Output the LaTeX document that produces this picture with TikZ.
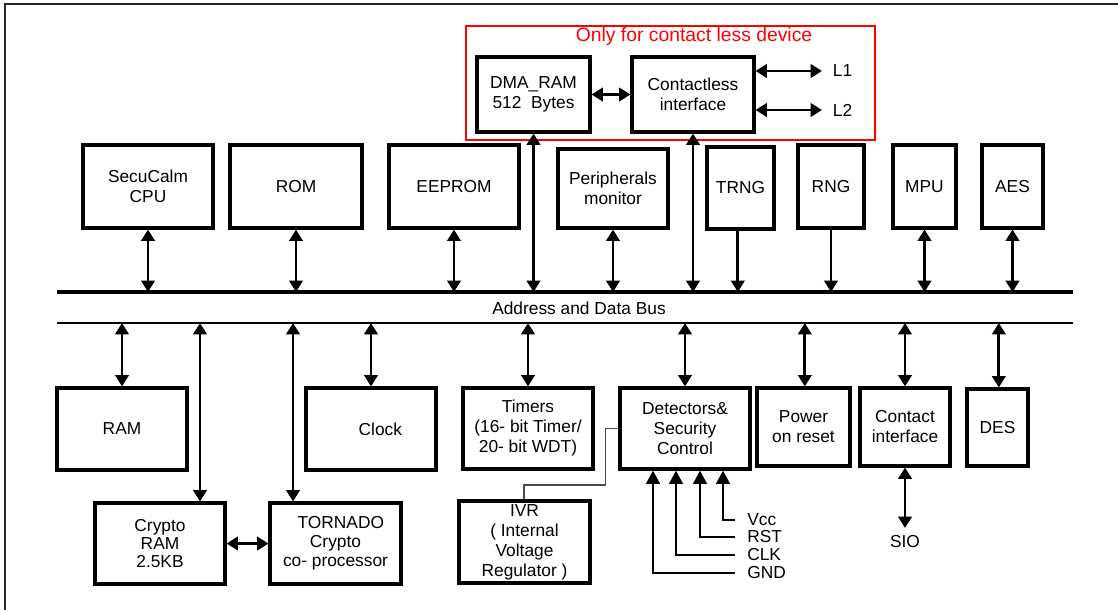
\documentclass[tikz,border=0pt]{standalone}
\usepackage{fontspec}
\setmainfont{Liberation Sans}
\usetikzlibrary{arrows.meta}
\begin{document}
\begin{tikzpicture}[x=0.75pt,y=-0.75pt,
  box/.style={draw, line width=2.3pt, inner sep=0pt, align=center, font=\fontsize{13}{15}\selectfont},
  lab/.style={inner sep=0pt, align=center, font=\fontsize{13}{15}\selectfont},
  dbl/.style={line width=2.1pt, {Triangle[length=8.5pt,width=10pt]}-{Triangle[length=8.5pt,width=10pt]}},
  sgl/.style={line width=2.1pt, -{Triangle[length=8.5pt,width=10pt]}},
  inarrow/.style={line width=2.2pt, -{Triangle[length=10pt,width=10pt]}},
  busline/.style={line width=3pt},
  thinline/.style={line width=0.8pt, black!70}
]
\useasboundingbox (0,0) rectangle (1118,610);
% outer frame (left and top only)
\draw[line width=1.4pt, black!85] (5,610) -- (5,4) -- (1118,4);

% contactless region
\node[draw=red, line width=1.5pt, minimum width=409*0.75pt, minimum height=114*0.75pt, inner sep=0pt] (cless) at (670.5,83) {};
\node[lab, text=red, font=\fontsize{14.5}{16}\selectfont] (ctitle) at (694,37) {Only for contact less device};
\node[box, minimum width=113*0.75pt, minimum height=75*0.75pt] (dma) at (533.5,94.5) {DMA\_RAM\\512\ \ Bytes};
\node[box, minimum width=122*0.75pt, minimum height=75*0.75pt] (cl) at (693,94.5) {Contactless\\interface};
\node[lab, anchor=west, inner xsep=8pt] (L1) at (822,71) {L1};
\node[lab, anchor=west, inner xsep=8pt] (L2) at (822,110) {L2};

% top row
\node[box, minimum width=130*0.75pt, minimum height=83*0.75pt] (cpu) at (148,186.5) {SecuCalm\\CPU};
\node[box, minimum width=132*0.75pt, minimum height=83*0.75pt] (rom) at (296,186.5) {ROM};
\node[box, minimum width=130*0.75pt, minimum height=83*0.75pt] (eeprom) at (454,186.5) {EEPROM};
\node[box, minimum width=110*0.75pt, minimum height=79*0.75pt] (periph) at (613,188.5) {Peripherals\\monitor};
\node[box, minimum width=67*0.75pt, minimum height=82*0.75pt] (trng) at (740.5,188) {TRNG};
\node[box, minimum width=66*0.75pt, minimum height=83*0.75pt] (rng) at (831,186.5) {RNG};
\node[box, minimum width=63*0.75pt, minimum height=83*0.75pt] (mpu) at (924.5,186.5) {MPU};
\node[box, minimum width=61*0.75pt, minimum height=83*0.75pt] (aes) at (1012.5,186.5) {AES};

% bus
\coordinate (btl) at (57,292);
\coordinate (btr) at (1073,292);
\coordinate (bbl) at (57,323);
\coordinate (bbr) at (1073,323);
\draw[busline] (btl) -- (btr);
\draw[line width=2.2pt] (bbl) -- (bbr);
\node[lab] (buslbl) at (579,308) {Address and Data Bus};

% lower row
\node[box, minimum width=130*0.75pt, minimum height=82*0.75pt] (ram) at (122,429) {RAM};
\node[box, minimum width=130*0.75pt, minimum height=82*0.75pt] (clock) at (371,429) {\hspace*{14pt}Clock};
\node[box, minimum width=130*0.75pt, minimum height=81*0.75pt] (timers) at (528,428.5) {Timers\\(16- bit Timer/\\20- bit WDT)};
\node[box, minimum width=130*0.75pt, minimum height=81*0.75pt] (det) at (685,428.5) {Detectors\&\\Security\\Control};
\node[box, minimum width=93*0.75pt, minimum height=78*0.75pt] (power) at (803.5,427) {Power\\on reset};
\node[box, minimum width=90*0.75pt, minimum height=78*0.75pt] (contact) at (905,427) {Contact\\interface};
\node[box, minimum width=61*0.75pt, minimum height=77*0.75pt] (des) at (997.5,427.5) {DES};
\node[box, minimum width=130*0.75pt, minimum height=81*0.75pt, font=\fontsize{13}{13.5}\selectfont] (cram) at (160,543.5) {Crypto\\RAM\\2.5KB};
\node[box, minimum width=131*0.75pt, minimum height=81*0.75pt, font=\fontsize{13}{14.3}\selectfont] (tornado) at (335.5,543.5) {\hspace*{8pt}TORNADO\\Crypto\\co- processor};
\node[box, minimum width=131*0.75pt, minimum height=82*0.75pt] (ivr) at (524.5,542) {IVR\\( Internal\\Voltage\\Regulator )};
\node[lab, anchor=north] (sio) at (905,535) {SIO};
\coordinate (sioend) at (905,528);

% detector inputs labels
\node[lab, anchor=west, inner xsep=9pt] (vcc) at (735,520) {Vcc};
\node[lab, anchor=west, inner xsep=9pt] (rst) at (735,537) {RST};
\node[lab, anchor=west, inner xsep=9pt] (clk) at (735,555) {CLK};
\node[lab, anchor=west, inner xsep=9pt] (gnd) at (735,573) {GND};
\coordinate (xv) at (723,0);
\coordinate (xr) at (700,0);
\coordinate (xc) at (676,0);
\coordinate (xg) at (653,0);

% top connectors
\draw[dbl] (cpu.south) -- (cpu.south |- btl);
\draw[dbl] (rom.south) -- (rom.south |- btl);
\draw[dbl] (eeprom.south) -- (eeprom.south |- btl);
\draw[dbl] (periph.south) -- (periph.south |- btl);
\draw[dbl] (dma.south) -- (dma.south |- btl);
\draw[dbl] (cl.south) -- (cl.south |- btl);
\draw[sgl] ([xshift=-2pt]trng.south) -- ([xshift=-2pt]trng.south |- btl);
\draw[sgl] (rng.south) -- (rng.south |- btl);
\draw[dbl] (mpu.south) -- (mpu.south |- btl);
\draw[dbl] (aes.south) -- (aes.south |- btl);
\draw[dbl] (dma.east) -- (cl.west);
\draw[dbl] (cl.east |- L1.west) -- (L1.west);
\draw[dbl] (cl.east |- L2.west) -- (L2.west);

% bottom connectors
\coordinate (xcr) at (200,0);
\coordinate (xto) at (293,0);
\draw[dbl] (ram.north |- bbl) -- (ram.north);
\draw[dbl] (xcr |- bbl) -- (xcr |- cram.north);
\draw[dbl] (xto |- bbl) -- (xto |- tornado.north);
\draw[dbl] (clock.north |- bbl) -- (clock.north);
\draw[dbl] (timers.north |- bbl) -- (timers.north);
\draw[dbl] (det.north |- bbl) -- (det.north);
\draw[dbl] ([xshift=1pt]power.north |- bbl) -- ([xshift=1pt]power.north);
\draw[dbl] (contact.north |- bbl) -- (contact.north);
\draw[dbl] ([xshift=1pt]des.north |- bbl) -- ([xshift=1pt]des.north);
\draw[dbl] (cram.east) -- (tornado.west);
\draw[dbl] (contact.south) -- (sioend);

% detector inputs
\draw[inarrow] (vcc.west) -| (xv |- det.south);
\draw[inarrow] (rst.west) -| (xr |- det.south);
\draw[inarrow] (clk.west) -| (xc |- det.south);
\draw[inarrow] (gnd.west) -| (xg |- det.south);

% IVR link
\coordinate (xivr) at (524,0);
\draw[thinline] (det.west) -- ++(-13,0) -- ++(0,56.5) -| (xivr |- ivr.north);
\end{tikzpicture}
\end{document}
